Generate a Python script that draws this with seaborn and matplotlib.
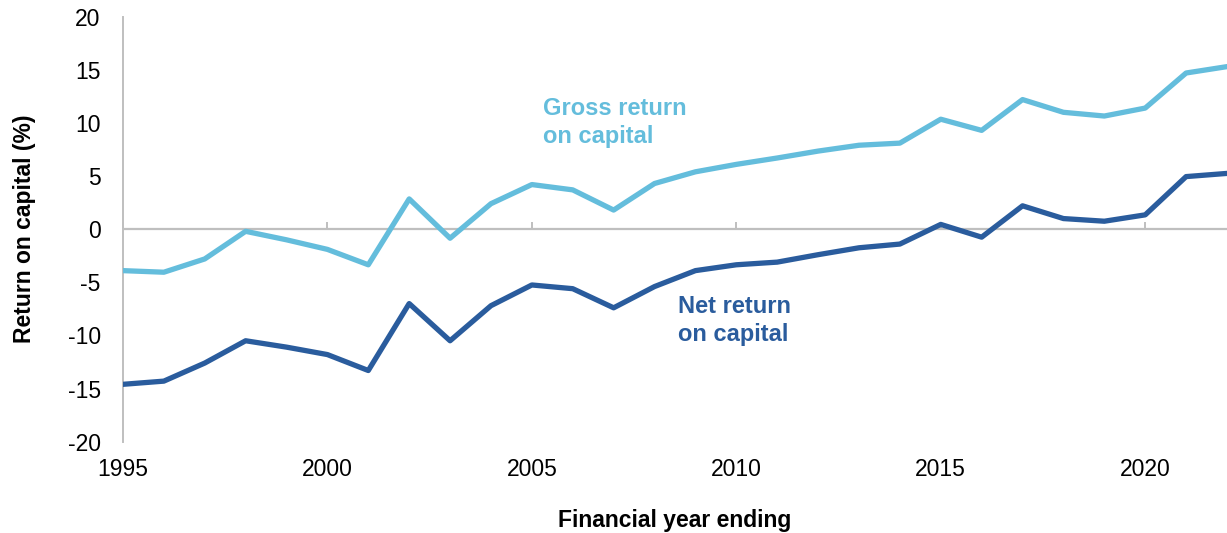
import matplotlib
matplotlib.use("Agg")
import matplotlib.pyplot as plt
import seaborn as sns
import pandas as pd

# Return on capital by financial year ending (%)
years = list(range(1995, 2023))
gross_return = [-3.9, -4.05, -2.8, -0.2, -1.0, -1.9, -3.35, 2.85, -0.85, 2.4,
                4.2, 3.7, 1.8, 4.3, 5.4, 6.1, 6.7, 7.35, 7.9, 8.1,
                10.35, 9.3, 12.2, 11.0, 10.65, 11.4, 14.7, 15.3]
net_return = [-14.6, -14.3, -12.6, -10.5, -11.1, -11.8, -13.3, -7.0, -10.5, -7.2,
              -5.25, -5.6, -7.4, -5.4, -3.9, -3.35, -3.1, -2.4, -1.75, -1.4,
              0.45, -0.75, 2.2, 1.0, 0.75, 1.35, 4.95, 5.25]
x_ticks = [1995, 2000, 2005, 2010, 2015, 2020]
y_ticks = [-20, -15, -10, -5, 0, 5, 10, 15, 20]

gross_colour = "#64BDDC"
net_colour = "#2A5C9D"
axis_grey = "#BFBFBF"

sns.set_theme(style="white")
plt.rcParams["font.family"] = ["Liberation Sans", "DejaVu Sans"]

df = pd.DataFrame({"year": years, "Gross": gross_return, "Net": net_return})
long = df.melt(id_vars="year", var_name="measure", value_name="value")

fig = plt.figure(figsize=(12.27, 5.33), dpi=100)
ax = fig.add_axes([0.1002, 0.1713, 0.8998, 0.7974])

# Horizontal axis line crossing at zero
ax.axhline(0, color=axis_grey, linewidth=1.6, zorder=1)

sns.lineplot(data=long, x="year", y="value", hue="measure",
             palette={"Gross": gross_colour, "Net": net_colour},
             linewidth=3.8, legend=False, ax=ax, zorder=3)

ax.set_xlim(1995, 2022)
ax.set_ylim(-20, 20)
ax.set_yticks(y_ticks)
ax.set_yticklabels([str(v) for v in y_ticks])
ax.set_xticks(x_ticks)
ax.set_xticklabels([str(v) for v in x_ticks])

for side in ("top", "right", "bottom"):
    ax.spines[side].set_visible(False)
ax.spines["left"].set_color(axis_grey)
ax.spines["left"].set_linewidth(1.4)

ax.tick_params(axis="y", direction="out", length=6, width=1.4, color=axis_grey,
               pad=10, labelsize=16.5, labelcolor="black")
ax.tick_params(axis="x", length=0, pad=12, labelsize=16.5, labelcolor="black")

# Tick marks hanging from the zero line
zero_axis = ax.secondary_xaxis(0.5)
zero_axis.set_xticks(x_ticks)
zero_axis.set_xticklabels([])
for sp in zero_axis.spines.values():
    sp.set_visible(False)
zero_axis.tick_params(axis="x", direction="out", length=5, width=1.4, color=axis_grey)

ax.set_xlabel("Financial year ending", fontsize=16.5, fontweight="bold",
              color="black", labelpad=20)
ax.set_ylabel("Return on capital (%)", fontsize=16.5, fontweight="bold",
              color="black", labelpad=23)

ax.text(2005.27, 12.4, "Gross return\non capital", color=gross_colour,
        fontsize=17, fontweight="bold", va="top", ha="left", linespacing=1.25)
ax.text(2008.57, -6.2, "Net return\non capital", color=net_colour,
        fontsize=17, fontweight="bold", va="top", ha="left", linespacing=1.25)

fig.savefig("out.png", dpi=100)
